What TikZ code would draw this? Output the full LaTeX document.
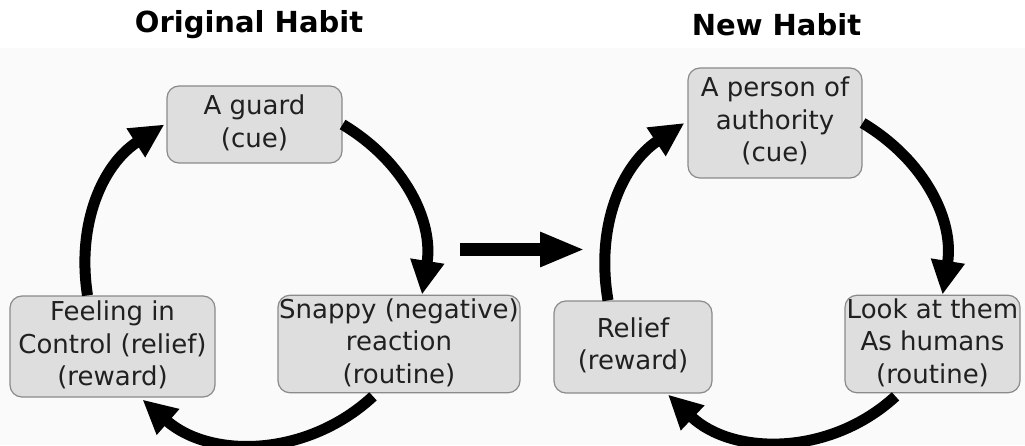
\documentclass[tikz,border=0pt]{standalone}
\usepackage{fontspec}
\setmainfont{DejaVu Sans}
\usetikzlibrary{arrows.meta}
\definecolor{boxfill}{HTML}{DEDEDE}
\definecolor{boxline}{HTML}{8A8A8A}
\definecolor{paper}{HTML}{FAFAFA}
\definecolor{ink}{HTML}{202020}
% text of a box: centred lines that never widen the box
\newcommand{\boxlines}[1]{\makebox[0pt]{\fontsize{26}{32.5}\selectfont\begin{tabular}{@{}c@{}}#1\end{tabular}}}
\tikzset{
  habitbox/.style={draw=boxline, line width=1.2pt, fill=boxfill, rounded corners=12pt,
    inner sep=0pt, text=ink},
  heading/.style={font=\fontsize{29}{34}\bfseries\selectfont, text=black},
  loop/.style={line width=11pt, -{Triangle[length=34pt,width=32pt]}},
  change/.style={line width=13pt, -{Triangle[length=45pt,width=32pt]}},
}
\begin{document}
\begin{tikzpicture}[x=1pt,y=1pt]
\useasboundingbox (0,0) rectangle (1025,445);
\fill[paper] (0,0) rectangle (1025,397);

% ---- original habit loop ----
\node[heading] (titleL) at (249,420) {Original Habit};
\node[habitbox, minimum width=175pt, minimum height=77pt] (cueL) at (254.5,320.5)
  {\boxlines{A guard\\(cue)}};
\node[habitbox, minimum width=242pt, minimum height=96pt] (snapL) at (399,101)
  {\boxlines{Snappy (negative)\\reaction\\(routine)}};
\node[habitbox, minimum width=205pt, minimum height=101pt] (feelL) at (112.5,98.5)
  {\boxlines{Feeling in\\Control (relief)\\(reward)}};

\draw[loop] (cueL.east) to[bend left=34] ([xshift=23pt]snapL.north);
\draw[loop] ([xshift=-26pt,yshift=-3pt]snapL.south) to[bend left=42] ([xshift=30pt,yshift=-2pt]feelL.south);
\draw[loop] ([xshift=-25pt]feelL.north) to[bend left=33] ([xshift=-2pt]cueL.west);

% ---- new habit loop ----
\node[heading] (titleR) at (776.5,420) {New Habit};
\node[habitbox, minimum width=174pt, minimum height=110pt] (cueR) at (775,322)
  {\boxlines{A person of\\authority\\(cue)}};
\node[habitbox, minimum width=175pt, minimum height=96pt] (lookR) at (932.5,101)
  {\boxlines{Look at them\\As humans\\(routine)}};
\node[habitbox, minimum width=158pt, minimum height=92pt] (relR) at (633,98)
  {\boxlines{Relief\\(reward)}};

\draw[loop] (cueR.east) to[bend left=34] ([xshift=10pt]lookR.north);
\draw[loop] ([xshift=-37pt,yshift=-3pt]lookR.south) to[bend left=43] ([xshift=35pt,yshift=-1pt]relR.south);
\draw[loop] ([xshift=-25pt]relR.north) to[bend left=33] ([xshift=-3pt]cueR.west);

% ---- change from the old loop to the new one ----
\coordinate (from) at (460,195.5);
\coordinate (to) at (585,195.5);
\draw[change] (from) -- (to);
\end{tikzpicture}
\end{document}
